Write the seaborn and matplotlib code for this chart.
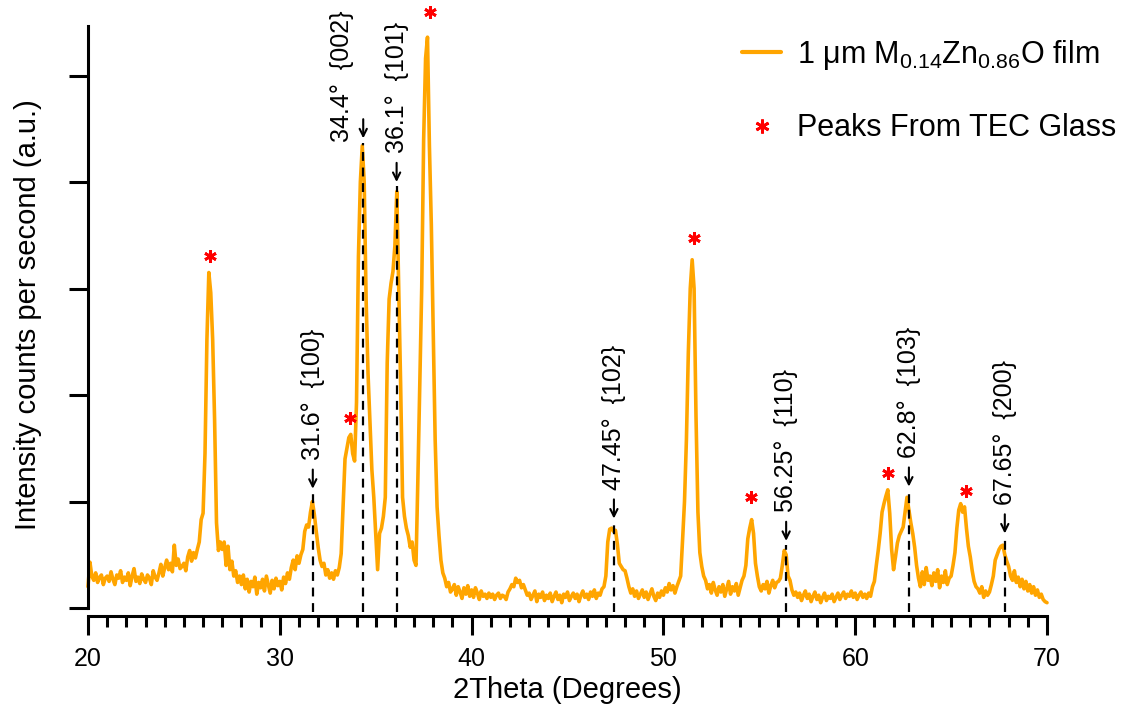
import numpy as np
import pandas as pd
import matplotlib
matplotlib.use("Agg")
import matplotlib.pyplot as plt
import seaborn as sns
from matplotlib.lines import Line2D
from matplotlib.ticker import MultipleLocator

sns.set_style("ticks")
plt.rcParams["font.family"] = ["Liberation Sans", "DejaVu Sans"]
plt.rcParams["mathtext.fontset"] = "custom"
plt.rcParams["mathtext.rm"] = "Liberation Sans"
plt.rcParams["mathtext.it"] = "Liberation Sans:italic"
plt.rcParams["mathtext.default"] = "regular"
plt.rcParams["text.color"] = "black"
plt.rcParams["axes.labelcolor"] = "black"
plt.rcParams["xtick.color"] = "black"
plt.rcParams["ytick.color"] = "black"
plt.rcParams["axes.edgecolor"] = "black"

# ---------------- data (2theta sampled every 0.1 deg) ----------------
theta_start, theta_step = 20.0, 0.1

intensity_20s = [
    20, 43, 30, 26, 33, 24, 29, 31, 22, 28,
    30, 25, 34, 27, 22, 31, 28, 35, 24, 29,
    26, 33, 21, 30, 37, 25, 29, 23, 32, 27,
    24, 31, 28, 22, 35, 29, 26, 33, 41, 30,
    38, 45, 36, 42, 34, 59, 40, 46, 37, 39,
    42, 35, 48, 54, 44, 52, 47, 55, 62, 83,
    89, 145, 252, 315, 296, 252, 177, 80, 54, 62,
    55, 62, 40, 58, 36, 44, 30, 35, 24, 30,
    22, 31, 18, 27, 15, 25, 20, 29, 13, 24,
    19, 27, 16, 30, 22, 14, 26, 18, 28, 21,
]
intensity_30s = [
    25, 17, 29, 23, 33, 27, 38, 45, 36, 49,
    42, 50, 55, 72, 78, 76, 90, 100, 88, 72,
    57, 45, 39, 42, 31, 36, 28, 33, 27, 35,
    31, 38, 51, 95, 140, 150, 160, 163, 145, 138,
    193, 330, 400, 434, 400, 290, 220, 176, 130, 104,
    69, 36, 70, 75, 86, 104, 230, 290, 305, 316,
    340, 391, 300, 210, 104, 86, 75, 68, 57, 62,
    45, 40, 122, 210, 301, 440, 516, 536, 434, 360,
    260, 158, 95, 68, 45, 33, 28, 20, 24, 15,
    18, 22, 12, 20, 15, 9, 19, 13, 21, 11,
]
intensity_40s = [
    17, 10, 19, 14, 8, 16, 11, 13, 9, 14,
    10, 13, 8, 12, 14, 9, 12, 11, 8, 15,
    18, 22, 20, 28, 24, 26, 19, 22, 17, 12,
    14, 8, 12, 16, 6, 13, 10, 15, 7, 12,
    9, 14, 6, 11, 15, 8, 12, 5, 13, 10,
    15, 7, 11, 14, 9, 13, 6, 12, 16, 10,
    13, 8, 15, 11, 17, 9, 14, 12, 18, 20,
    30, 62, 74, 75, 72, 73, 60, 42, 39, 36,
    35, 28, 20, 14, 18, 11, 16, 9, 13, 17,
    10, 15, 8, 13, 18, 11, 7, 14, 10, 16,
]
intensity_50s = [
    12, 19, 15, 23, 17, 21, 14, 20, 25, 30,
    64, 100, 158, 240, 300, 327, 300, 180, 90, 52,
    39, 30, 26, 18, 22, 14, 24, 17, 12, 20,
    15, 22, 11, 18, 25, 13, 20, 16, 23, 12,
    19, 26, 30, 40, 65, 75, 83, 70, 42, 30,
    20, 16, 22, 18, 25, 14, 21, 26, 19, 24,
    25, 28, 40, 54, 50, 30, 26, 17, 12, 15,
    10, 14, 7, 12, 16, 9, 13, 6, 11, 15,
    8, 12, 5, 10, 14, 7, 11, 9, 13, 6,
    10, 14, 8, 12, 15, 9, 13, 11, 16, 10,
]
intensity_60s = [
    14, 8, 12, 15, 10, 13, 9, 14, 11, 20,
    25, 40, 54, 70, 90, 98, 105, 111, 89, 55,
    36, 48, 61, 68, 72, 76, 90, 104, 92, 80,
    70, 57, 40, 28, 20, 34, 22, 38, 26, 30,
    21, 33, 25, 36, 19, 30, 24, 35, 22, 28,
    30, 40, 52, 75, 92, 98, 90, 95, 75, 58,
    48, 35, 25, 20, 18, 14, 20, 10, 16, 12,
    15, 22, 30, 45, 50, 55, 58, 59, 50, 44,
    39, 30, 26, 35, 24, 29, 20, 27, 18, 25,
    16, 22, 14, 20, 12, 17, 10, 13, 8, 6,
    5,
]

# ZnO reflections: marker position, arrow tip height, label text and label anchor
zno_theta = [31.72, 34.35, 36.09, 47.42, 56.40, 62.80, 67.80]
zno_arrow_y = [112, 441, 400, 84, 63, 114, 70]
zno_labels = ["31.6°  {100}", "34.4°  {002}", "36.1°  {101}", "47.45°  {102}",
              "56.25°  {110}", "62.8°  {103}", "67.65°  {200}"]
label_theta = [31.72, 33.22, 36.09, 47.42, 56.40, 62.80, 67.80]
label_base_y = [139, 438, 427, 111, 90, 141, 97]

# Peaks from TEC glass substrate
glass_theta = [26.37, 33.66, 37.83, 51.62, 54.55, 61.69, 65.78]
glass_mark_y = [331, 178, 560, 347, 104, 127, 110]

x_ticks = [20, 30, 40, 50, 60, 70]
y_ticks = [0, 100, 200, 300, 400, 500]

# ---------------- build frame ----------------
intensity = intensity_20s + intensity_30s + intensity_40s + intensity_50s + intensity_60s
two_theta = np.round(theta_start + theta_step * np.arange(len(intensity)), 2)
df = pd.DataFrame({"two_theta": two_theta, "intensity": intensity})

# ---------------- figure ----------------
W, H = 1122, 711
fig = plt.figure(figsize=(W / 100, H / 100), dpi=100)
ax = fig.add_axes([88 / W, 95 / H, 959 / W, 590 / H])

sns.lineplot(data=df, x="two_theta", y="intensity", color="#FFA500",
             linewidth=2.6, ax=ax, clip_on=False, zorder=2)

ax.set_xlim(20, 70)
ax.set_ylim(-7.5, 546.5)

for s in ["top", "right"]:
    ax.spines[s].set_visible(False)
ax.spines["left"].set_bounds(0, 546.5)
ax.spines["left"].set_linewidth(2.2)
ax.spines["bottom"].set_linewidth(2.2)

ax.set_xticks(x_ticks)
ax.set_xticklabels([str(t) for t in x_ticks])
ax.xaxis.set_minor_locator(MultipleLocator(1))
ax.set_yticks(y_ticks)
ax.set_yticklabels([])
ax.tick_params(axis="both", which="major", direction="out", length=14, width=2.2,
               labelsize=18, pad=8)
ax.tick_params(axis="x", which="minor", direction="out", length=8, width=2.2)

ax.set_xlabel("2Theta (Degrees)", fontsize=21)
ax.set_ylabel("Intensity counts per second (a.u.)", fontsize=21)
ax.xaxis.set_label_coords(0.5, -0.102)
ax.yaxis.set_label_coords(-0.048, 0.51)

# ZnO peak annotations
for xt, ya, lab, xl, yl in zip(zno_theta, zno_arrow_y, zno_labels, label_theta, label_base_y):
    ax.plot([xt, xt], [-4, ya - 4], color="black", linewidth=1.6,
            linestyle=(0, (4, 3)), zorder=3, clip_on=False)
    ax.annotate("", xy=(xt, ya), xytext=(xt, ya + 18),
                arrowprops=dict(arrowstyle="->", lw=1.5, color="black",
                                shrinkA=0, shrinkB=0, mutation_scale=13),
                zorder=4, annotation_clip=False)
    ax.text(xl, yl, lab, rotation=90, ha="center", va="bottom",
            fontsize=18, color="black", zorder=4)

# glass markers
ax.plot(glass_theta, glass_mark_y, linestyle="none", marker=(6, 2, 0),
        color="red", markersize=9, markeredgewidth=2, clip_on=False, zorder=4)

# legend
handles = [Line2D([], [], color="#FFA500", linewidth=3),
           Line2D([], [], linestyle="none", marker=(6, 2, 0), color="red",
                  markersize=10, markeredgewidth=2)]
labels = ["1 \u03bcm M$_{0.14}$Zn$_{0.86}$O film", "Peaks From TEC Glass"]
ax.legend(handles, labels, loc="upper right", bbox_to_anchor=(1116 / W, 1 - 38 / H),
          bbox_transform=fig.transFigure, frameon=False, fontsize=22,
          handlelength=1.3, handletextpad=0.5, labelspacing=1.35, borderpad=0,
          borderaxespad=0)

fig.savefig("out.png", dpi=100)
